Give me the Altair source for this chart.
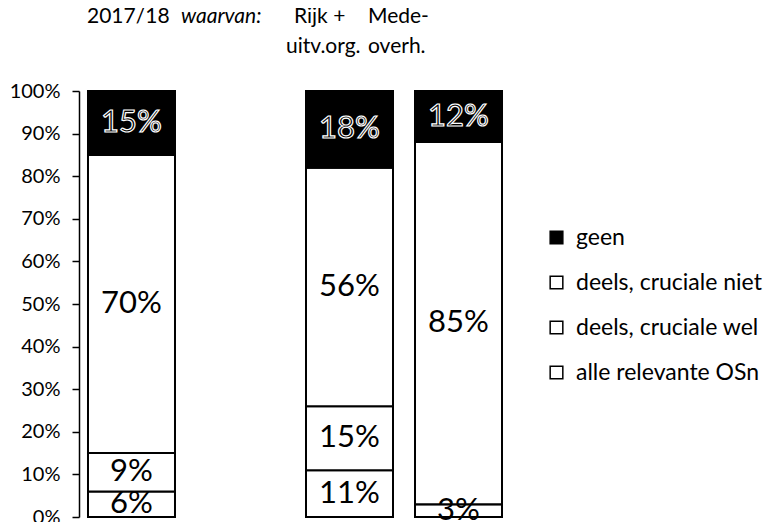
import altair as alt
import pandas as pd

# --- data -------------------------------------------------------------
groups = ["2017/18", "Rijk + uitv.org.", "Mede-overh."]
x_domain = ["2017/18", " ", "Rijk + uitv.org.", "Mede-overh."]  # " " = empty slot
series = ["alle relevante OSn", "deels, cruciale wel", "deels, cruciale niet", "geen"]
alle = [6, 11, 3]
wel = [9, 15, 0]
niet = [70, 56, 85]
geen = [15, 18, 12]
legend_order = ["geen", "deels, cruciale niet", "deels, cruciale wel", "alle relevante OSn"]
y_ticks = list(range(0, 101, 10))

header_line1 = ["2017/18", "waarvan:", "Rijk +", "Mede-"]
header_line2 = ["uitv.org.", "overh."]

values_by_series = [alle, wel, niet, geen]
rows = []
for si, (s, vals) in enumerate(zip(series, values_by_series)):
    for g, v in zip(groups, vals):
        rows.append({"group": g, "series": s, "value": v, "order": si})
df = pd.DataFrame(rows)

FONT = "Lato"

x_enc = alt.X("group:N", scale=alt.Scale(domain=x_domain, paddingInner=0.202, paddingOuter=0.0826), axis=None)

bars = alt.Chart(df).mark_bar(stroke="black", strokeWidth=2, size=87).encode(
    x=x_enc,
    y=alt.Y("value:Q", stack="zero", scale=alt.Scale(domain=[0, 100], nice=False),
            axis=alt.Axis(values=y_ticks, labelExpr="datum.value + '%'", grid=False,
                          domainColor="black", domainWidth=1.5, tickColor="black",
                          tickWidth=1.5, tickSize=7, labelPadding=12, labelFont=FONT,
                          labelFontSize=20, labelColor="black"),
            title=None),
    fill=alt.Fill("series:N",
                  scale=alt.Scale(domain=legend_order, range=["black", "white", "white", "white"]),
                  legend=alt.Legend(orient="none", legendX=466, legendY=135, title=None,
                                    symbolType="square", symbolSize=160,
                                    symbolStrokeColor="black", symbolStrokeWidth=1.5,
                                    labelFont=FONT, labelFontSize=23, labelColor="black",
                                    labelLimit=400, rowPadding=21, labelOffset=8)),
    order=alt.Order("order:Q"),
)

label_base = alt.Chart(df).transform_filter("datum.value > 0").transform_stack(
    stack="value", groupby=["group"], as_=["v0", "v1"],
    sort=[alt.SortField("order", order="ascending")],
).transform_calculate(mid="(datum.v0 + datum.v1) / 2", label="datum.value + '%'")

labels_light = label_base.transform_filter("datum.series != 'geen'").mark_text(
    font=FONT, fontSize=31, color="black", baseline="middle"
).encode(x=x_enc, y=alt.Y("mid:Q"), text="label:N")

labels_dark = label_base.transform_filter("datum.series == 'geen'").mark_text(
    font=FONT, fontSize=31, fill="black", stroke="white", strokeWidth=1.2, baseline="middle"
).encode(x=x_enc, y=alt.Y("mid:Q"), text="label:N")

one = alt.Data(values=[{}])
def header(txt, x, y, italic=False):
    return alt.Chart(one).mark_text(
        text=txt, font=FONT, fontSize=21, align="left", baseline="alphabetic", color="black",
        fontStyle="italic" if italic else "normal"
    ).encode(x=alt.value(x), y=alt.value(y))

headers = [
    header(header_line1[0], 8, -68),
    header(header_line1[1], 102, -68, italic=True),
    header(header_line1[2], 215, -68),
    header(header_line1[3], 289, -68),
    header(header_line2[0], 207, -38),
    header(header_line2[1], 289, -38),
]

chart = alt.layer(bars, labels_light, labels_dark, *headers).properties(
    width=432, height=426,
    padding={"left": 71, "top": 83, "right": 262, "bottom": 8},
    autosize=alt.AutoSizeParams(type="none"),
).configure(font=FONT).configure_view(stroke=None)

chart.save("out.html", embed_options={"renderer": "svg", "actions": False})
